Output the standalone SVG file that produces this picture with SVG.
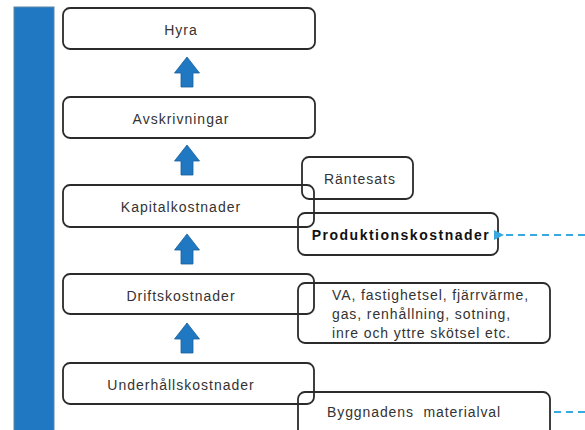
<svg xmlns="http://www.w3.org/2000/svg" width="585" height="430" viewBox="0 0 585 430">
<defs>
<style>
.box{fill:#fff;stroke:#2b2b2b;stroke-width:1.8}
.ov{fill:none;stroke:#2b2b2b;stroke-width:1.8}
.t{font-family:"Liberation Sans",Arial,sans-serif;font-size:14px;letter-spacing:1px;fill:#333;text-anchor:middle}
.tl{font-family:"Liberation Sans",Arial,sans-serif;font-size:14px;letter-spacing:0.9px;fill:#333}
.b{font-weight:bold;fill:#111;letter-spacing:1.5px}
.up{fill:#1f78c1;stroke:#175f9c;stroke-width:0.8}
.dash{stroke:#39a8e0;stroke-width:2;stroke-dasharray:7 5;fill:none}
</style>
<marker id="ah" viewBox="0 0 10 10" refX="1" refY="5" markerWidth="5" markerHeight="5" orient="auto">
<path d="M10,0 L0,5 L10,10 z" fill="#39a8e0"/>
</marker>
<path id="arr" d="M0,0 L12.5,16 L6,16 L6,30 L-6,30 L-6,16 L-12.5,16 Z"/>
</defs>
<rect x="14" y="7" width="40" height="430" fill="#1f78c1" stroke="#5d87a8" stroke-width="1"/>
<g id="n-byggnadens"><rect class="box" x="298" y="392" width="252" height="45" rx="7"/><text class="tl" x="327" y="417" xml:space="preserve">Byggnadens  materialval</text></g>
<g id="n-underhall"><rect class="ov" x="63" y="363" width="251" height="41" rx="7"/><text class="t" x="181" y="390">Underhållskostnader</text></g>
<g id="n-va"><rect class="box" x="298" y="283" width="252" height="60" rx="7"/><text class="tl" x="332" y="300">VA, fastighetsel, fjärrvärme,</text><text class="tl" x="332" y="319">gas, renhållning, sotning,</text><text class="tl" x="332" y="338">inre och yttre skötsel etc.</text></g>
<g id="n-drift"><rect class="ov" x="63" y="274" width="251" height="40" rx="7"/><text class="t" x="181" y="301">Driftskostnader</text></g>
<g id="n-rantesats"><rect class="box" x="302" y="157" width="111" height="42" rx="7"/><text class="t" x="360" y="184">Räntesats</text></g>
<g id="n-produktion"><rect class="box" x="298" y="213" width="200" height="42" rx="7"/><text class="t b" x="401" y="240">Produktionskostnader</text></g>
<g id="n-kapital"><rect class="ov" x="63" y="185" width="251" height="42" rx="7"/><text class="t" x="181" y="212">Kapitalkostnader</text></g>
<g id="n-avskrivningar"><rect class="box" x="63" y="97" width="252" height="41" rx="7"/><text class="t" x="181" y="124">Avskrivningar</text></g>
<g id="n-hyra"><rect class="box" x="63" y="8" width="252" height="41" rx="7"/><text class="t" x="181" y="35">Hyra</text></g>
<g id="connectors">
<use href="#arr" class="up" x="187" y="57"/>
<use href="#arr" class="up" x="187" y="145"/>
<use href="#arr" class="up" x="187" y="234"/>
<use href="#arr" class="up" x="187" y="323"/>
<line class="dash" x1="585" y1="235" x2="503" y2="235" marker-end="url(#ah)"/>
<line class="dash" x1="585" y1="412" x2="552" y2="412"/>
</g>
</svg>
